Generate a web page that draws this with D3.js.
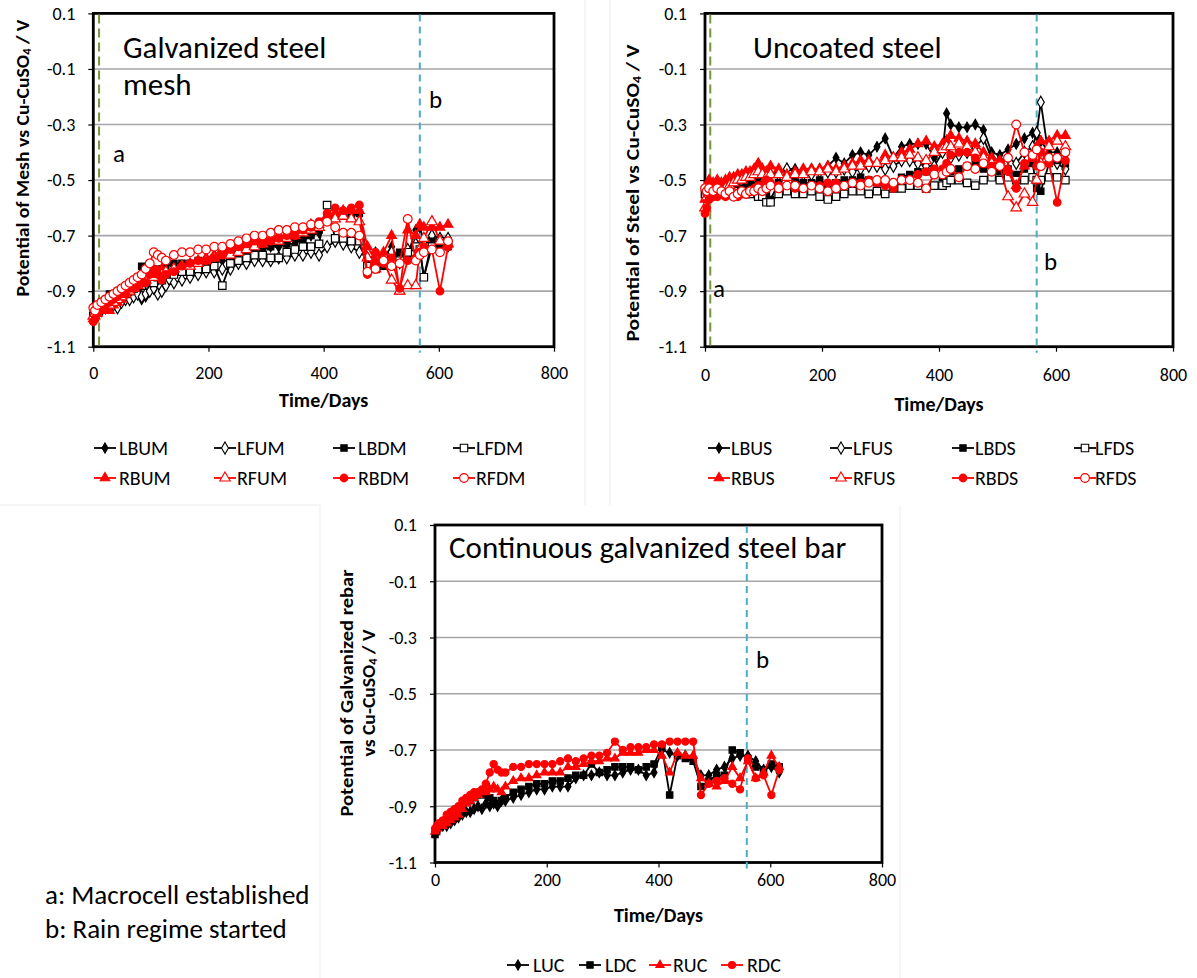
<!DOCTYPE html>
<html><head><meta charset="utf-8">
<script src="https://cdn.jsdelivr.net/npm/d3@7"></script>
<style>
body{margin:0;background:#fff;}
svg{display:block;font-family:Carlito, Calibri, Lato, sans-serif;}
</style></head><body>
<svg id="c" width="1197" height="978"></svg>
<script>
// ---------------- DATA ----------------
const yTicks = [0.1, -0.1, -0.3, -0.5, -0.7, -0.9, -1.1];
const xTicks = [0, 200, 400, 600, 800];

// Panel 1: galvanized steel mesh
const daysMesh = [0,3,7,14,21,28,35,42,49,56,
 63,70,77,84,91,98,105,112,119,126,
 140,154,168,182,196,210,224,238,252,266,
 280,294,308,322,336,350,364,378,392,406,
 420,434,448,462,476,490,504,518,532,546,
 560,567,574,588,602,616];
const LBUM = [-0.98,-0.97,-0.96,-0.95,-0.94,-0.93,-0.92,-0.92,-0.91,-0.90,
 -0.90,-0.89,-0.90,-0.93,-0.92,-0.87,-0.84,-0.86,-0.85,-0.84,
 -0.83,-0.82,-0.82,-0.81,-0.80,-0.80,-0.79,-0.79,-0.77,-0.76,
 -0.75,-0.75,-0.74,-0.74,-0.73,-0.73,-0.71,-0.70,-0.69,-0.64,
 -0.62,-0.62,-0.62,-0.62,-0.80,-0.76,-0.78,-0.74,-0.80,-0.77,
 -0.68,-0.67,-0.72,-0.73,-0.74,-0.74];
const LFUM = [-0.99,-0.98,-0.97,-0.97,-0.96,-0.95,-0.95,-0.96,-0.94,-0.93,
 -0.93,-0.92,-0.91,-0.92,-0.91,-0.90,-0.89,-0.91,-0.90,-0.88,
 -0.87,-0.86,-0.85,-0.84,-0.83,-0.83,-0.82,-0.82,-0.80,-0.80,
 -0.79,-0.79,-0.79,-0.78,-0.78,-0.77,-0.77,-0.76,-0.77,-0.74,
 -0.72,-0.73,-0.74,-0.76,-0.78,-0.81,-0.80,-0.76,-0.78,-0.75,
 -0.73,-0.76,-0.72,-0.70,-0.71,-0.71];
const LBDM = [-0.97,-0.96,-0.95,-0.94,-0.93,-0.91,-0.91,-0.90,-0.90,-0.89,
 -0.88,-0.87,-0.85,-0.81,-0.82,-0.83,-0.82,-0.84,-0.82,-0.81,
 -0.80,-0.80,-0.80,-0.79,-0.79,-0.78,-0.77,-0.76,-0.76,-0.75,
 -0.74,-0.75,-0.74,-0.73,-0.73,-0.71,-0.72,-0.70,-0.68,-0.64,
 -0.63,-0.63,-0.63,-0.62,-0.79,-0.80,-0.81,-0.79,-0.76,-0.77,
 -0.74,-0.75,-0.85,-0.72,-0.73,-0.74];
const LFDM = [-0.99,-0.98,-0.97,-0.95,-0.95,-0.94,-0.93,-0.92,-0.92,-0.91,
 -0.90,-0.89,-0.88,-0.88,-0.87,-0.86,-0.87,-0.85,-0.86,-0.84,
 -0.84,-0.83,-0.83,-0.82,-0.82,-0.81,-0.88,-0.80,-0.79,-0.78,
 -0.77,-0.77,-0.78,-0.78,-0.76,-0.75,-0.74,-0.74,-0.73,-0.59,
 -0.71,-0.71,-0.72,-0.72,-0.81,-0.82,-0.78,-0.80,-0.79,-0.76,
 -0.74,-0.75,-0.85,-0.74,-0.72,-0.73];
const RBUM = [-1.00,-0.99,-0.98,-0.97,-0.96,-0.97,-0.95,-0.94,-0.93,-0.91,
 -0.90,-0.89,-0.88,-0.87,-0.86,-0.85,-0.84,-0.83,-0.82,-0.83,
 -0.82,-0.81,-0.80,-0.79,-0.78,-0.77,-0.75,-0.76,-0.74,-0.73,
 -0.72,-0.71,-0.71,-0.70,-0.70,-0.68,-0.68,-0.66,-0.66,-0.63,
 -0.62,-0.61,-0.61,-0.61,-0.74,-0.79,-0.76,-0.70,-0.90,-0.68,
 -0.70,-0.66,-0.67,-0.67,-0.67,-0.66];
const RFUM = [-0.99,-0.98,-0.97,-0.96,-0.95,-0.95,-0.94,-0.93,-0.92,-0.91,
 -0.90,-0.89,-0.88,-0.87,-0.86,-0.85,-0.85,-0.84,-0.84,-0.83,
 -0.82,-0.81,-0.81,-0.80,-0.79,-0.78,-0.77,-0.77,-0.76,-0.75,
 -0.74,-0.73,-0.72,-0.72,-0.71,-0.70,-0.69,-0.68,-0.67,-0.65,
 -0.64,-0.63,-0.64,-0.65,-0.78,-0.82,-0.79,-0.86,-0.90,-0.88,
 -0.88,-0.75,-0.71,-0.65,-0.72,-0.73];
const RBDM = [-1.01,-1.00,-0.98,-0.96,-0.95,-0.94,-0.93,-0.92,-0.91,-0.91,
 -0.89,-0.89,-0.88,-0.86,-0.87,-0.84,-0.82,-0.84,-0.86,-0.84,
 -0.83,-0.81,-0.80,-0.79,-0.79,-0.78,-0.77,-0.75,-0.74,-0.73,
 -0.72,-0.73,-0.72,-0.71,-0.70,-0.70,-0.68,-0.67,-0.65,-0.62,
 -0.60,-0.61,-0.60,-0.59,-0.84,-0.76,-0.80,-0.78,-0.89,-0.79,
 -0.78,-0.76,-0.74,-0.75,-0.90,-0.74];
const RFDM = [-0.96,-0.97,-0.95,-0.94,-0.93,-0.92,-0.91,-0.90,-0.89,-0.88,
 -0.87,-0.86,-0.85,-0.84,-0.82,-0.80,-0.76,-0.77,-0.78,-0.79,
 -0.77,-0.76,-0.76,-0.75,-0.75,-0.74,-0.74,-0.73,-0.72,-0.71,
 -0.70,-0.70,-0.69,-0.68,-0.68,-0.67,-0.67,-0.66,-0.66,-0.65,
 -0.67,-0.69,-0.69,-0.70,-0.83,-0.82,-0.79,-0.81,-0.80,-0.64,
 -0.79,-0.77,-0.76,-0.75,-0.76,-0.72];

// Panel 2: uncoated steel
const daysSteel = [0,3,7,14,21,28,35,42,49,56,
 63,70,77,84,91,98,105,112,126,140,
 154,168,182,196,210,224,238,252,266,280,
 294,308,322,336,350,364,378,392,406,413,
 420,434,448,462,476,490,504,518,532,546,
 560,567,574,588,602,616];
const LBUS = [-0.53,-0.52,-0.54,-0.52,-0.53,-0.53,-0.54,-0.52,-0.51,-0.51,
 -0.50,-0.50,-0.49,-0.49,-0.48,-0.49,-0.47,-0.48,-0.47,-0.46,
 -0.46,-0.47,-0.46,-0.46,-0.45,-0.42,-0.44,-0.41,-0.40,-0.41,
 -0.38,-0.35,-0.42,-0.38,-0.37,-0.37,-0.37,-0.42,-0.40,-0.26,
 -0.30,-0.31,-0.31,-0.30,-0.32,-0.40,-0.41,-0.39,-0.37,-0.35,
 -0.33,-0.34,-0.36,-0.40,-0.40,-0.41];
const LFUS = [-0.54,-0.53,-0.52,-0.53,-0.54,-0.53,-0.52,-0.53,-0.52,-0.51,
 -0.52,-0.50,-0.51,-0.50,-0.48,-0.50,-0.49,-0.48,-0.48,-0.46,
 -0.47,-0.48,-0.48,-0.47,-0.47,-0.47,-0.46,-0.47,-0.46,-0.45,
 -0.45,-0.46,-0.45,-0.43,-0.43,-0.44,-0.45,-0.45,-0.40,-0.36,
 -0.42,-0.41,-0.40,-0.38,-0.35,-0.42,-0.43,-0.42,-0.44,-0.40,
 -0.38,-0.33,-0.22,-0.42,-0.44,-0.46];
const LBDS = [-0.55,-0.53,-0.54,-0.55,-0.54,-0.55,-0.55,-0.54,-0.54,-0.53,
 -0.53,-0.52,-0.51,-0.52,-0.50,-0.53,-0.55,-0.57,-0.51,-0.49,
 -0.50,-0.51,-0.51,-0.50,-0.52,-0.51,-0.50,-0.50,-0.49,-0.50,
 -0.51,-0.51,-0.52,-0.49,-0.48,-0.47,-0.47,-0.48,-0.49,-0.51,
 -0.47,-0.46,-0.45,-0.44,-0.46,-0.45,-0.47,-0.46,-0.48,-0.46,
 -0.44,-0.53,-0.54,-0.44,-0.43,-0.44];
const LFDS = [-0.55,-0.54,-0.55,-0.53,-0.54,-0.55,-0.54,-0.53,-0.54,-0.55,
 -0.54,-0.55,-0.55,-0.54,-0.56,-0.56,-0.58,-0.58,-0.55,-0.54,
 -0.55,-0.55,-0.54,-0.56,-0.57,-0.56,-0.55,-0.54,-0.54,-0.55,
 -0.54,-0.55,-0.53,-0.53,-0.52,-0.52,-0.53,-0.52,-0.52,-0.51,
 -0.50,-0.50,-0.51,-0.52,-0.50,-0.49,-0.50,-0.49,-0.50,-0.50,
 -0.49,-0.50,-0.50,-0.49,-0.49,-0.50];
const RBUS = [-0.57,-0.52,-0.50,-0.51,-0.50,-0.51,-0.50,-0.49,-0.49,-0.48,
 -0.48,-0.47,-0.47,-0.46,-0.44,-0.46,-0.47,-0.45,-0.46,-0.48,
 -0.47,-0.46,-0.46,-0.46,-0.45,-0.46,-0.45,-0.44,-0.43,-0.43,
 -0.44,-0.41,-0.42,-0.40,-0.39,-0.37,-0.36,-0.38,-0.37,-0.36,
 -0.34,-0.35,-0.36,-0.37,-0.40,-0.42,-0.43,-0.46,-0.52,-0.45,
 -0.42,-0.38,-0.36,-0.36,-0.34,-0.34];
const RFUS = [-0.60,-0.56,-0.55,-0.54,-0.55,-0.54,-0.53,-0.52,-0.51,-0.50,
 -0.50,-0.49,-0.49,-0.48,-0.47,-0.48,-0.49,-0.48,-0.48,-0.49,
 -0.48,-0.48,-0.47,-0.47,-0.46,-0.47,-0.46,-0.45,-0.45,-0.44,
 -0.44,-0.43,-0.42,-0.42,-0.41,-0.42,-0.43,-0.40,-0.39,-0.38,
 -0.38,-0.37,-0.38,-0.40,-0.42,-0.44,-0.45,-0.56,-0.60,-0.55,
 -0.58,-0.50,-0.44,-0.38,-0.36,-0.38];
const RBDS = [-0.62,-0.60,-0.57,-0.56,-0.56,-0.55,-0.56,-0.55,-0.55,-0.56,
 -0.55,-0.55,-0.54,-0.53,-0.52,-0.52,-0.50,-0.51,-0.52,-0.52,
 -0.53,-0.53,-0.52,-0.52,-0.51,-0.51,-0.52,-0.51,-0.51,-0.50,
 -0.51,-0.52,-0.53,-0.50,-0.50,-0.48,-0.47,-0.46,-0.46,-0.44,
 -0.41,-0.40,-0.40,-0.42,-0.44,-0.45,-0.44,-0.47,-0.53,-0.44,
 -0.42,-0.45,-0.40,-0.44,-0.58,-0.43];
const RFDS = [-0.53,-0.54,-0.53,-0.54,-0.53,-0.54,-0.55,-0.54,-0.56,-0.55,
 -0.54,-0.55,-0.54,-0.54,-0.53,-0.54,-0.53,-0.52,-0.53,-0.52,
 -0.52,-0.53,-0.52,-0.53,-0.54,-0.53,-0.52,-0.51,-0.52,-0.51,
 -0.50,-0.50,-0.51,-0.50,-0.50,-0.51,-0.53,-0.48,-0.48,-0.47,
 -0.46,-0.49,-0.45,-0.46,-0.44,-0.47,-0.45,-0.42,-0.30,-0.40,
 -0.41,-0.39,-0.45,-0.42,-0.42,-0.40];

// Panel 3: continuous galvanized steel bar
const daysBar = [0,3,7,14,21,28,35,42,49,56,
 63,70,77,84,91,98,105,112,119,126,
 140,154,168,182,196,210,224,238,252,266,
 280,294,308,322,336,350,364,378,392,406,
 420,434,448,462,476,490,504,518,532,546,
 560,574,588,602,616];
const LUC = [-1.00,-0.99,-0.98,-0.97,-0.97,-0.96,-0.95,-0.94,-0.93,-0.92,
 -0.92,-0.91,-0.90,-0.91,-0.89,-0.90,-0.89,-0.90,-0.88,-0.88,
 -0.87,-0.86,-0.85,-0.84,-0.84,-0.83,-0.83,-0.83,-0.80,-0.79,
 -0.79,-0.78,-0.79,-0.79,-0.78,-0.77,-0.77,-0.79,-0.78,-0.70,
 -0.71,-0.72,-0.72,-0.73,-0.79,-0.79,-0.77,-0.76,-0.73,-0.72,
 -0.72,-0.74,-0.77,-0.76,-0.78];
const LDC = [-1.00,-0.99,-0.97,-0.96,-0.95,-0.94,-0.93,-0.91,-0.90,-0.88,
 -0.88,-0.87,-0.86,-0.85,-0.86,-0.87,-0.88,-0.89,-0.88,-0.87,
 -0.85,-0.84,-0.83,-0.82,-0.82,-0.81,-0.81,-0.80,-0.79,-0.79,
 -0.75,-0.78,-0.77,-0.76,-0.76,-0.76,-0.77,-0.76,-0.75,-0.69,
 -0.86,-0.72,-0.73,-0.74,-0.83,-0.81,-0.79,-0.79,-0.70,-0.71,
 -0.73,-0.76,-0.77,-0.75,-0.76];
const RUC = [-0.99,-0.98,-0.97,-0.97,-0.96,-0.95,-0.94,-0.93,-0.91,-0.89,
 -0.88,-0.87,-0.86,-0.85,-0.85,-0.84,-0.83,-0.84,-0.85,-0.83,
 -0.81,-0.80,-0.80,-0.79,-0.78,-0.78,-0.78,-0.76,-0.76,-0.75,
 -0.74,-0.74,-0.73,-0.73,-0.71,-0.71,-0.71,-0.70,-0.70,-0.72,
 -0.78,-0.71,-0.72,-0.72,-0.80,-0.82,-0.83,-0.81,-0.76,-0.80,
 -0.74,-0.80,-0.78,-0.72,-0.76];
const RDC = [-0.98,-0.97,-0.96,-0.95,-0.93,-0.92,-0.91,-0.90,-0.88,-0.87,
 -0.86,-0.85,-0.85,-0.84,-0.82,-0.78,-0.75,-0.77,-0.78,-0.78,
 -0.76,-0.76,-0.75,-0.75,-0.75,-0.75,-0.74,-0.73,-0.74,-0.73,
 -0.72,-0.72,-0.71,-0.67,-0.70,-0.69,-0.69,-0.69,-0.68,-0.68,
 -0.67,-0.67,-0.67,-0.67,-0.86,-0.82,-0.81,-0.80,-0.82,-0.84,
 -0.73,-0.80,-0.79,-0.86,-0.77];

// ---------------- STYLES ----------------
const RED = "#ff0000", BLK = "#000000";
const style8 = [
  {color:BLK, sym:d3.symbolDiamond, fill:true,  size:30},
  {color:BLK, sym:d3.symbolDiamond, fill:false, size:42},
  {color:BLK, sym:d3.symbolSquare,  fill:true,  size:40},
  {color:BLK, sym:d3.symbolSquare,  fill:false, size:56},
  {color:RED, sym:d3.symbolTriangle,fill:true,  size:40},
  {color:RED, sym:d3.symbolTriangle,fill:false, size:48},
  {color:RED, sym:d3.symbolCircle,  fill:true,  size:46},
  {color:RED, sym:d3.symbolCircle,  fill:false, size:60}
];
const style4 = [
  {color:BLK, sym:d3.symbolDiamond, fill:true,  size:30},
  {color:BLK, sym:d3.symbolSquare,  fill:true,  size:40},
  {color:RED, sym:d3.symbolTriangle,fill:true,  size:30},
  {color:RED, sym:d3.symbolCircle,  fill:true,  size:40}
];

const panels = [
  { days: daysMesh, left:93.3, right:554, top:13.4, bottom:346.7,
    series:[["LBUM",LBUM],["LFUM",LFUM],["LBDM",LBDM],["LFDM",LFDM],["RBUM",RBUM],["RFUM",RFUM],["RBDM",RBDM],["RFDM",RFDM]],
    styles: style8, aDay:10, bDay:567,
    title:[["Galvanized steel",123,58],["mesh",123,95]],
    aLabel:[113,162], bLabel:[429,108],
    ytitle:{x:22,y:158,lines:[["Potential of Mesh vs Cu-CuSO","4"," / V",277]]},
    xLabY:373, xTitleY:407,
    legend:{rows:[448,478], cols:[[94,119],[214,237],[333,358],[453,476]]} },
  { days: daysSteel, left:705, right:1173, top:13.4, bottom:346.7,
    series:[["LBUS",LBUS],["LFUS",LFUS],["LBDS",LBDS],["LFDS",LFDS],["RBUS",RBUS],["RFUS",RFUS],["RBDS",RBDS],["RFDS",RFDS]],
    styles: style8, aDay:9, bDay:567,
    title:[["Uncoated steel",753,58]],
    aLabel:[713,297], bLabel:[1044,270],
    ytitle:{x:632,y:193,lines:[["Potential of Steel vs Cu-CuSO","4"," / V",297]]},
    xLabY:375, xTitleY:411,
    legend:{rows:[448,478], cols:[[708,731],[830,853],[952,975],[1074,1095]]} },
  { days: daysBar, left:435, right:882, top:525, bottom:862.5,
    series:[["LUC",LUC],["LDC",LDC],["RUC",RUC],["RDC",RDC]],
    styles: style4, aDay:null, bDay:558,
    title:[["Continuous galvanized steel bar",449,558]],
    aLabel:null, bLabel:[756,668],
    ytitle:{x:357,y:693,lines:[["Potential of Galvanized rebar","","",247],["vs Cu-CuSO","4"," / V",127]]},
    xLabY:880, xTitleY:922,
    legend:{rows:[965], cols:[[507,533],[579,605],[649,673],[721,747]]} }
];

const FONT = "Carlito, Calibri, Lato, sans-serif";
const svg = d3.select("#c");
svg.append("rect").attr("width",1197).attr("height",978).attr("fill","#fff");
// faint panel frames
svg.append("path").attr("d","M585,0V505M0,505H320M610,0V505M320,505V978M900,505V978")
  .attr("stroke","#ececec").attr("stroke-width",1).attr("fill","none");

panels.forEach(p => {
  const x = d3.scaleLinear().domain([0,800]).range([p.left,p.right]);
  const y = d3.scaleLinear().domain([-1.1,0.1]).range([p.bottom,p.top]);
  const g = svg.append("g");

  // grid
  g.selectAll("line.grid").data(yTicks.filter(t => t>-1.05 && t<0.05)).enter().append("line")
    .attr("x1",p.left).attr("x2",p.right).attr("y1",d=>y(d)).attr("y2",d=>y(d))
    .attr("stroke","#a6a6a6").attr("stroke-width",1.6);

  // axes
  const ya = d3.axisLeft(y).tickValues(yTicks).tickSize(5).tickPadding(13)
    .tickFormat(d => d3.format(".1f")(d).replace("−","-"));
  const yg = g.append("g").attr("transform",`translate(${p.left},0)`).call(ya);
  yg.select(".domain").remove();
  yg.selectAll("text").attr("font-size",18).attr("fill","#000").attr("font-family",FONT);
  yg.selectAll("line").attr("stroke","#000").attr("stroke-width",1.2);

  const xa = d3.axisBottom(x).tickValues(xTicks).tickSize(5).tickFormat(d3.format("d"));
  const xg = g.append("g").attr("transform",`translate(0,${p.bottom})`).call(xa);
  xg.select(".domain").remove();
  xg.selectAll("text").attr("font-size",18).attr("fill","#000").attr("font-family",FONT)
    .attr("y", p.xLabY - p.bottom).attr("dy","0.35em");
  xg.selectAll("line").attr("stroke","#000").attr("stroke-width",1.2);

  // frame
  g.append("rect").attr("x",p.left).attr("y",p.top).attr("width",p.right-p.left).attr("height",p.bottom-p.top)
    .attr("fill","none").attr("stroke","#000").attr("stroke-width",2.8);

  // vertical event lines
  if (p.aDay !== null) {
    g.append("line").attr("x1",x(p.aDay)).attr("x2",x(p.aDay)).attr("y1",p.top+1).attr("y2",p.bottom-1)
      .attr("stroke","#77933c").attr("stroke-width",2).attr("stroke-dasharray","9,5");
  }
  g.append("line").attr("x1",x(p.bDay)).attr("x2",x(p.bDay)).attr("y1",p.top+1).attr("y2",p.bottom+6)
    .attr("stroke","#4bacc6").attr("stroke-width",2).attr("stroke-dasharray","7,5");

  // series
  const line = d3.line().x(d=>x(d[0])).y(d=>y(d[1]));
  p.series.forEach((s,i) => {
    const st = p.styles[i];
    const n = Math.min(p.days.length, s[1].length);
    const pts = d3.range(n).map(k => [p.days[k], s[1][k]]);
    g.append("path").datum(pts).attr("d",line).attr("fill","none")
      .attr("stroke",st.color).attr("stroke-width",1.8).attr("stroke-linejoin","round");
    g.selectAll(null).data(pts).enter().append("path")
      .attr("transform",d=>`translate(${x(d[0])},${y(d[1])})`)
      .attr("d", d3.symbol().type(st.sym).size(st.size)())
      .attr("fill", st.fill ? st.color : "#fff")
      .attr("stroke", st.color).attr("stroke-width",1.2);
  });

  // titles inside plot
  p.title.forEach(t => {
    g.append("text").attr("x",t[1]).attr("y",t[2]).text(t[0]).attr("font-size",31).attr("fill","#000");
  });
  if (p.aLabel) g.append("text").attr("x",p.aLabel[0]).attr("y",p.aLabel[1]).text("a").attr("font-size",25);
  g.append("text").attr("x",p.bLabel[0]).attr("y",p.bLabel[1]).text("b").attr("font-size",25);

  // axis titles
  g.append("text").attr("x",(p.left+p.right)/2).attr("y",p.xTitleY).attr("text-anchor","middle")
    .attr("font-weight","bold").attr("font-size",20).text("Time/Days");
  const nl = p.ytitle.lines.length;
  p.ytitle.lines.forEach((ln,li) => {
    const xx = p.ytitle.x + (li - (nl-1)/2) * 22;
    const t = g.append("text").attr("transform",`translate(${xx},${p.ytitle.y}) rotate(-90)`)
      .attr("text-anchor","middle").attr("dominant-baseline","central")
      .attr("font-weight","bold").attr("font-size",19)
      .attr("textLength", ln[3]).attr("lengthAdjust","spacingAndGlyphs");
    t.append("tspan").text(ln[0]);
    if (ln[1]) t.append("tspan").text(ln[1]).attr("font-size",12).attr("dy","5");
    if (ln[2]) t.append("tspan").text(ln[2]).attr("dy", ln[1] ? "-5" : "0");
  });

  // legend
  const nrow = p.legend.rows.length;
  const perRow = p.series.length / nrow;
  p.series.forEach((s,i) => {
    const st = p.styles[i];
    const ry = p.legend.rows[Math.floor(i/perRow)];
    const c = p.legend.cols[i % perRow];
    const lg = g.append("g");
    lg.append("line").attr("x1",c[0]).attr("x2",c[0]+22).attr("y1",ry).attr("y2",ry)
      .attr("stroke",st.color).attr("stroke-width",1.8);
    lg.append("path").attr("transform",`translate(${c[0]+11},${ry})`)
      .attr("d", d3.symbol().type(st.sym).size(st.size)())
      .attr("fill", st.fill ? st.color : "#fff").attr("stroke",st.color).attr("stroke-width",1.1);
    lg.append("text").attr("x",c[1]).attr("y",ry).attr("dominant-baseline","central")
      .attr("font-size",20).text(s[0]);
  });
});

// bottom-left notes
svg.append("text").attr("x",45).attr("y",904).attr("font-size",27).text("a: Macrocell established");
svg.append("text").attr("x",45).attr("y",938).attr("font-size",27).text("b: Rain regime started");
</script>
</body></html>
